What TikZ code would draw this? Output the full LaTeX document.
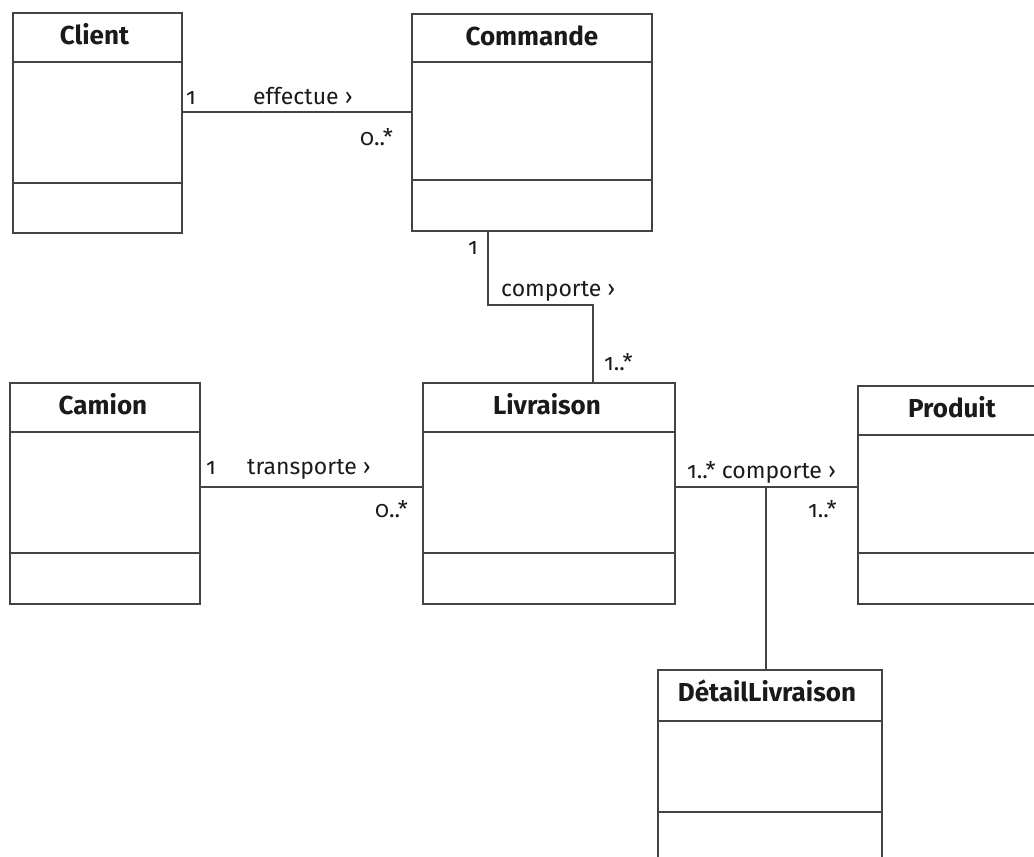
\documentclass[tikz,border=0pt]{standalone}
\usepackage{fontspec}
\setmainfont{Fira Sans}[Numbers=OldStyle]
\usetikzlibrary{calc}
\definecolor{linec}{HTML}{444444}
\definecolor{txtc}{HTML}{1A1A1A}
\tikzset{
  cls/.style={draw=linec, line width=1.9pt, inner sep=0pt, anchor=north west, rectangle},
  sep/.style={draw=linec, line width=1.9pt},
  assoc/.style={draw=linec, line width=1.9pt},
  ttl/.style={font=\bfseries\fontsize{26}{30}\selectfont, anchor=base, text=txtc, inner sep=0pt},
  lbl/.style={font=\fontsize{23}{27}\selectfont, anchor=base west, text=txtc, inner sep=0pt}
}
\begin{document}
\begin{tikzpicture}[x=1pt,y=-1pt]
\useasboundingbox (0,0) rectangle (1034,857);
\clip (0,0) rectangle (1034,857);
% classes
\node[cls, minimum width=169, minimum height=220] (client) at (12,12) {};
\node[ttl] (clientT) at ($(client.north)+(-3,32)$) {Client};
\draw[sep] (client.west |- 0,62) -- (client.east |- 0,62);
\draw[sep] (client.west |- 0,183) -- (client.east |- 0,183);

\node[cls, minimum width=240, minimum height=217] (commande) at (411,13) {};
\node[ttl] (commandeT) at ($(commande.north)+(0,32)$) {Commande};
\draw[sep] (commande.west |- 0,62) -- (commande.east |- 0,62);
\draw[sep] (commande.west |- 0,180) -- (commande.east |- 0,180);

\node[cls, minimum width=190, minimum height=221] (camion) at (9,382) {};
\node[ttl] (camionT) at ($(camion.north)+(-2,32)$) {Camion};
\draw[sep] (camion.west |- 0,432) -- (camion.east |- 0,432);
\draw[sep] (camion.west |- 0,553) -- (camion.east |- 0,553);

\node[cls, minimum width=252, minimum height=221] (livraison) at (422,382) {};
\node[ttl] (livraisonT) at ($(livraison.north)+(-2,32)$) {Livraison};
\draw[sep] (livraison.west |- 0,432) -- (livraison.east |- 0,432);
\draw[sep] (livraison.west |- 0,553) -- (livraison.east |- 0,553);

\node[cls, minimum width=188, minimum height=218] (produit) at (857,385) {};
\node[ttl] (produitT) at ($(produit.north)+(0,32)$) {Produit};
\draw[sep] (produit.west |- 0,435) -- (produit.east |- 0,435);
\draw[sep] (produit.west |- 0,553) -- (produit.east |- 0,553);

\node[cls, minimum width=224, minimum height=230] (detail) at (657,669) {};
\node[ttl] (detailT) at ($(detail.north)+(-3,32)$) {DétailLivraison};
\draw[sep] (detail.west |- 0,721) -- (detail.east |- 0,721);
\draw[sep] (detail.west |- 0,812) -- (detail.east |- 0,812);

% associations
\draw[assoc] (client.east |- 0,112) -- (commande.west |- 0,112);
\node[lbl] (m1) at (186,104) {1};
\node[lbl] (a1) at (253,104) {effectue ›};
\node[lbl] (m2) at (360,145) {0..*};

\draw[assoc] (commande.south -| 488,0) -- (488,305) -- (593,305) -- (livraison.north -| 593,0);
\node[lbl] (m3) at (468,254) {1};
\node[lbl] (a2) at (501,296) {comporte ›};
\node[lbl] (m4) at (604,370) {1..*};

\draw[assoc] (camion.east |- 0,487) -- (livraison.west |- 0,487);
\node[lbl] (m5) at (206,474) {1};
\node[lbl] (a3) at (247,474) {transporte ›};
\node[lbl] (m6) at (375,517) {0..*};

\draw[assoc] (livraison.east |- 0,487) -- (produit.west |- 0,487);
\coordinate (j) at (766,487);
\draw[assoc] (j) -- (detail.north -| j);
\node[lbl] (m7) at (687,478) {1..* comporte ›};
\node[lbl] (m8) at (808,517) {1..*};
\end{tikzpicture}
\end{document}
